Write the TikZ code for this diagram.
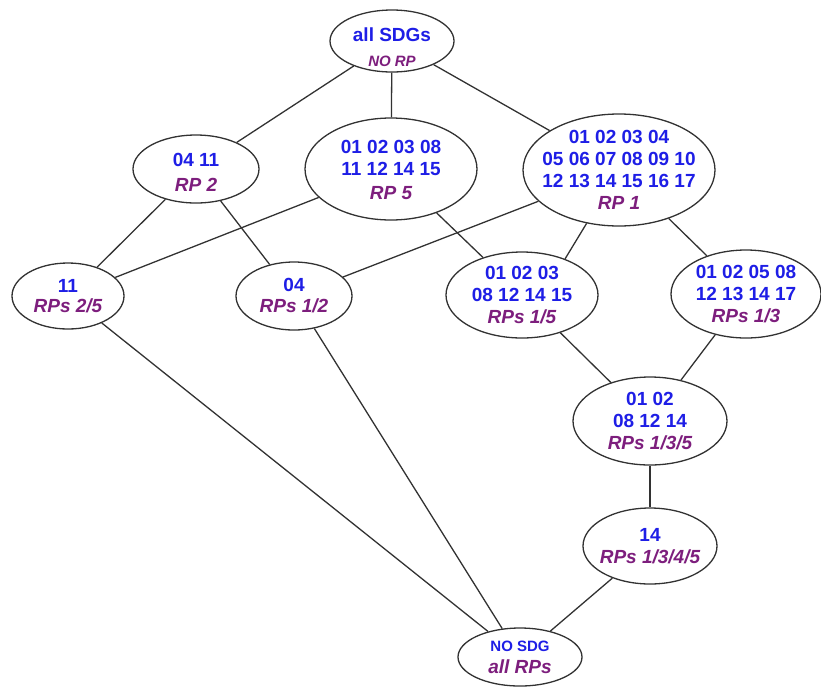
\documentclass[tikz,border=0pt]{standalone}
\usepackage{fontspec}
\setmainfont{Liberation Sans}
\usetikzlibrary{shapes.geometric}
\definecolor{sdgblue}{RGB}{30,30,230}
\definecolor{rppurple}{RGB}{125,30,125}
\definecolor{edgegray}{RGB}{50,50,50}
\newcommand{\sdg}{\color{sdgblue}\bfseries}
\newcommand{\rpl}{\color{rppurple}\bfseries\itshape}
\begin{document}
\begin{tikzpicture}[x=1pt,y=-1pt,
  ell/.style={draw=edgegray, line width=1.3pt, ellipse, inner sep=0pt, fill=white},
  txt/.style={align=center, font=\fontsize{19}{22}\selectfont, inner sep=0pt},
  conn/.style={draw=edgegray, line width=1.3pt}]
\useasboundingbox (0,0) rectangle (821,689);
% nodes
\node[ell, minimum width=124pt, minimum height=62pt,
  label={[txt, yshift=-6pt]center:{\sdg all SDGs\\[3pt]{\fontsize{15}{18}\selectfont\rpl NO RP}}}] (top) at (392,41) {};
\node[ell, minimum width=126pt, minimum height=68pt,
  label={[txt, yshift=-3pt]center:{\sdg 04 11\\[3pt]\rpl RP 2}}] (rp2) at (196,169) {};
\node[ell, minimum width=172pt, minimum height=102pt,
  label={[txt, yshift=-1pt]center:{\sdg 01 02 03 08\\\sdg 11 12 14 15\\[2pt]\rpl RP 5}}] (rp5) at (391,169) {};
\node[ell, minimum width=192pt, minimum height=112pt,
  label={[txt]center:{\sdg 01 02 03 04\\\sdg 05 06 07 08 09 10\\\sdg 12 13 14 15 16 17\\\rpl RP 1}}] (rp1) at (619,170) {};
\node[ell, minimum width=112pt, minimum height=66pt,
  label={[txt]center:{\sdg 11\\[-2pt]\rpl RPs 2/5}}] (n11) at (68,296) {};
\node[ell, minimum width=116pt, minimum height=68pt,
  label={[txt]center:{\sdg 04\\[-1pt]\rpl RPs 1/2}}] (n04) at (294,296) {};
\node[ell, minimum width=152pt, minimum height=86pt,
  label={[txt]center:{\sdg 01 02 03\\\sdg 08 12 14 15\\\rpl RPs 1/5}}] (rp15) at (522,295) {};
\node[ell, minimum width=150pt, minimum height=88pt,
  label={[txt]center:{\sdg 01 02 05 08\\\sdg 12 13 14 17\\\rpl RPs 1/3}}] (rp13) at (746,294) {};
\node[ell, minimum width=154pt, minimum height=88pt,
  label={[txt]center:{\sdg 01 02\\\sdg 08 12 14\\\rpl RPs 1/3/5}}] (rp135) at (650,421) {};
\node[ell, minimum width=134pt, minimum height=76pt,
  label={[txt]center:{\sdg 14\\\rpl RPs 1/3/4/5}}] (n14) at (650,546) {};
\node[ell, minimum width=124pt, minimum height=58pt,
  label={[txt]center:{{\fontsize{15}{18}\selectfont\sdg NO SDG}\\\rpl all RPs}}] (nosdg) at (520,657) {};
% connectors
\draw[conn] (top) -- (rp2);
\draw[conn] (top) -- (rp5);
\draw[conn] (top) -- (rp1);
\draw[conn] (rp2) -- (n11);
\draw[conn] (rp2) -- (n04);
\draw[conn] (rp5) -- (n11);
\draw[conn] (rp5) -- (rp15);
\draw[conn] (rp1) -- (n04);
\draw[conn] (rp1) -- (rp15.40);
\draw[conn] (rp1) -- (rp13);
\draw[conn] (rp15) -- (rp135);
\draw[conn] (rp13) -- (rp135);
\draw[conn] (rp135) -- (n14);
\draw[conn] (n14) -- (nosdg);
\draw[conn] (n11) -- (nosdg);
\draw[conn] (n04) -- (nosdg);
\end{tikzpicture}
\end{document}
